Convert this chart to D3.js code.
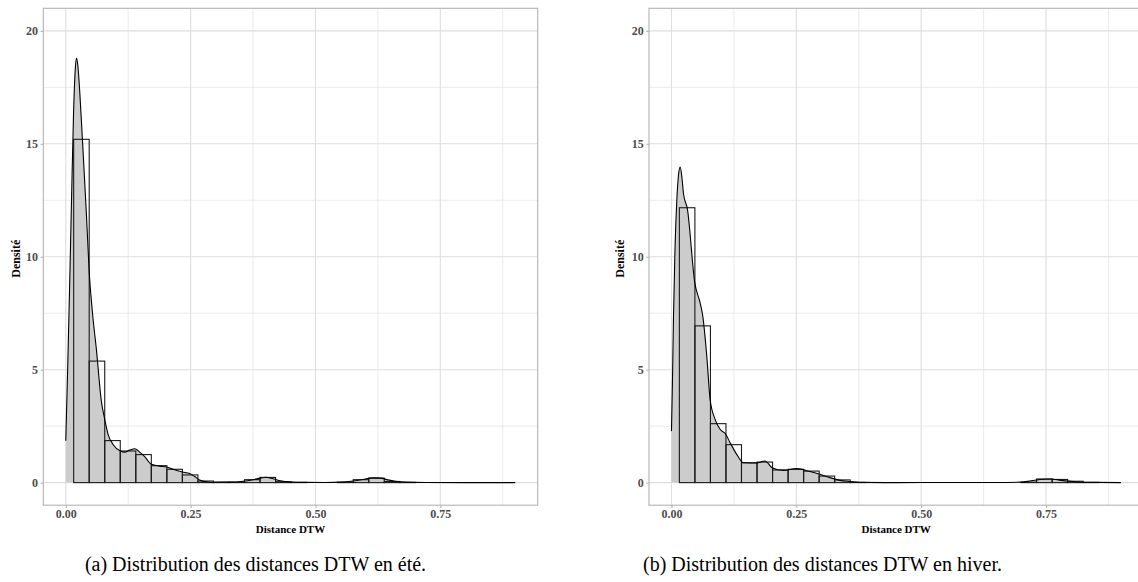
<!DOCTYPE html>
<html>
<head>
<meta charset="utf-8">
<script src="https://cdn.jsdelivr.net/npm/d3@7"></script>
<style>
  html, body { margin: 0; padding: 0; background: #ffffff; }
  svg { display: block; }
</style>
</head>
<body>
<svg id="chart" width="1138" height="582"></svg>
<script>
// ---------------- DATA ----------------
const xTicks = [0, 0.25, 0.5, 0.75];
const xTickLabels = ["0.00", "0.25", "0.50", "0.75"];
const xMinor = [0.125, 0.375, 0.625, 0.875];
const yTicks = [0, 5, 10, 15, 20];
const yTickLabels = ["0", "5", "10", "15", "20"];
const yMinor = [2.5, 7.5, 12.5, 17.5];

const binStart = 0.0158;
const binWidth = 0.0311;

// histogram densities (summer / été)
const summerBins = [15.2, 5.38, 1.86, 1.40, 1.24, 0.75, 0.59, 0.34, 0.07, 0.02,
                    0.02, 0.13, 0.23, 0.04, 0.01, 0.0, 0.0, 0.02, 0.13, 0.20,
                    0.05, 0.01, 0.0, 0.0, 0.0, 0.0, 0.0, 0.0];
// histogram densities (winter / hiver)
const winterBins = [12.17, 6.94, 2.61, 1.68, 0.88, 0.91, 0.56, 0.59, 0.51, 0.29,
                    0.12, 0.01, 0.0, 0.0, 0.0, 0.0, 0.0, 0.0, 0.0, 0.0,
                    0.0, 0.0, 0.02, 0.16, 0.14, 0.06, 0.01, 0.0];

// kernel density curves
const summerDensX = [0.0, 0.004, 0.008, 0.012, 0.0155, 0.019, 0.0215, 0.024, 0.028, 0.0333,
                     0.0413, 0.047, 0.054, 0.0613, 0.0713, 0.078, 0.0847, 0.0947, 0.1093, 0.118,
                     0.128, 0.138, 0.148, 0.158, 0.1713, 0.188, 0.202, 0.2147, 0.2333, 0.248,
                     0.258, 0.268, 0.281, 0.30, 0.33, 0.355, 0.375, 0.39, 0.40, 0.415,
                     0.43, 0.45, 0.48, 0.52, 0.555, 0.575, 0.595, 0.615, 0.63, 0.645,
                     0.66, 0.68, 0.72, 0.80, 0.90];
const summerDensY = [1.85, 5.2, 9.0, 13.0, 16.3, 18.3, 18.8, 18.5, 17.3, 15.2,
                     11.9, 9.3, 7.4, 5.9, 3.6, 2.8, 2.14, 1.69, 1.40, 1.35,
                     1.44, 1.50, 1.35, 1.15, 0.81, 0.73, 0.69, 0.59, 0.47, 0.40,
                     0.27, 0.12, 0.04, 0.015, 0.02, 0.06, 0.13, 0.20, 0.24, 0.17,
                     0.08, 0.03, 0.01, 0.005, 0.02, 0.07, 0.14, 0.21, 0.20, 0.12,
                     0.06, 0.02, 0.005, 0.0, 0.0];

const winterDensX = [0.0, 0.002, 0.004, 0.007, 0.0107, 0.014, 0.0174, 0.021, 0.024, 0.032,
                     0.0467, 0.0574, 0.0627, 0.0707, 0.0774, 0.0874, 0.0974, 0.1087, 0.1174, 0.1307,
                     0.144, 0.1707, 0.1874, 0.2014, 0.224, 0.2507, 0.2774, 0.2974, 0.3174, 0.3374,
                     0.356, 0.38, 0.45, 0.55, 0.65, 0.70, 0.72, 0.745, 0.76, 0.78,
                     0.80, 0.82, 0.85, 0.90];
const winterDensY = [2.28, 4.5, 7.3, 10.3, 12.5, 13.6, 13.97, 13.5, 12.8, 12.1,
                     8.84, 7.96, 7.37, 5.6, 3.68, 2.8, 2.36, 2.14, 1.77, 1.25,
                     0.88, 0.87, 0.96, 0.66, 0.54, 0.62, 0.49, 0.37, 0.22, 0.10,
                     0.05, 0.01, 0.0, 0.005, 0.005, 0.02, 0.08, 0.15, 0.16, 0.10,
                     0.06, 0.03, 0.01, 0.0];

const xTitle = "Distance DTW";
const yTitle = "Densité";
const captions = ["(a) Distribution des distances DTW en été.",
                  "(b) Distribution des distances DTW en hiver."];

// ---------------- LAYOUT ----------------
const svg = d3.select("#chart");
svg.append("rect").attr("width", 1138).attr("height", 582).attr("fill", "#ffffff");

const panelTop = 8.3, panelBottom = 505.2;
const panels = [
  { left: 43.3, right: 537.7, bins: summerBins, dx: summerDensX, dy: summerDensY, caption: captions[0], capX: 255.5, yTitleX: 16 },
  { left: 649.0, right: 1143.4, bins: winterBins, dx: winterDensX, dy: winterDensY, caption: captions[1], capX: 822.5, yTitleX: 620 }
];

const serif = "'Liberation Serif', 'DejaVu Serif', serif";

panels.forEach((p, pi) => {
  const x = d3.scaleLinear().domain([-0.045, 0.945]).range([p.left, p.right]);
  const y = d3.scaleLinear().domain([-1, 21]).range([panelBottom, panelTop]);

  const clipId = "clip" + pi;
  svg.append("clipPath").attr("id", clipId)
    .append("rect").attr("x", p.left).attr("y", panelTop)
    .attr("width", p.right - p.left).attr("height", panelBottom - panelTop);

  const g = svg.append("g");
  const inner = g.append("g").attr("clip-path", `url(#${clipId})`);

  // minor grid
  inner.selectAll(".ymin").data(yMinor).enter().append("line")
    .attr("x1", p.left).attr("x2", p.right)
    .attr("y1", d => y(d)).attr("y2", d => y(d))
    .attr("stroke", "#e6e6e6").attr("stroke-width", 0.8);
  inner.selectAll(".xmin").data(xMinor).enter().append("line")
    .attr("y1", panelTop).attr("y2", panelBottom)
    .attr("x1", d => x(d)).attr("x2", d => x(d))
    .attr("stroke", "#e6e6e6").attr("stroke-width", 0.8);
  // major grid
  inner.selectAll(".ymaj").data(yTicks).enter().append("line")
    .attr("x1", p.left).attr("x2", p.right)
    .attr("y1", d => y(d)).attr("y2", d => y(d))
    .attr("stroke", "#dedede").attr("stroke-width", 1.1);
  inner.selectAll(".xmaj").data(xTicks).enter().append("line")
    .attr("y1", panelTop).attr("y2", panelBottom)
    .attr("x1", d => x(d)).attr("x2", d => x(d))
    .attr("stroke", "#dedede").attr("stroke-width", 1.1);

  // density area
  const pts = p.dx.map((v, i) => [v, p.dy[i]]);
  const area = d3.area().x(d => x(d[0])).y0(y(0)).y1(d => y(d[1])).curve(d3.curveMonotoneX);
  inner.append("path").datum(pts).attr("d", area).attr("fill", "#cccccc").attr("stroke", "none");

  // histogram bars (outline only)
  const bars = p.bins.map((h, i) => ({ x0: binStart + i * binWidth, x1: binStart + (i + 1) * binWidth, h }));
  inner.selectAll(".bar").data(bars).enter().append("rect")
    .attr("x", d => x(d.x0)).attr("width", d => x(d.x1) - x(d.x0))
    .attr("y", d => y(d.h)).attr("height", d => y(0) - y(d.h))
    .attr("fill", "none").attr("stroke", "#1a1a1a").attr("stroke-width", 1.1);

  // density line
  const line = d3.line().x(d => x(d[0])).y(d => y(d[1])).curve(d3.curveMonotoneX);
  inner.append("path").datum(pts).attr("d", line)
    .attr("fill", "none").attr("stroke", "#000000").attr("stroke-width", 1.1);

  // panel border
  g.append("rect").attr("x", p.left).attr("y", panelTop)
    .attr("width", p.right - p.left).attr("height", panelBottom - panelTop)
    .attr("fill", "none").attr("stroke", "#b3b3b3").attr("stroke-width", 1.1);

  // axes
  const yAxis = d3.axisLeft(y).tickValues(yTicks).tickFormat((d, i) => yTickLabels[i])
    .tickSizeInner(2.7).tickSizeOuter(0).tickPadding(2.5);
  const ya = g.append("g").attr("transform", `translate(${p.left},0)`).call(yAxis);
  const xAxis = d3.axisBottom(x).tickValues(xTicks).tickFormat((d, i) => xTickLabels[i])
    .tickSizeInner(2.7).tickSizeOuter(0).tickPadding(1.5);
  const xa = g.append("g").attr("transform", `translate(0,${panelBottom})`).call(xAxis);
  [ya, xa].forEach(a => {
    a.select(".domain").remove();
    a.selectAll(".tick line").attr("stroke", "#b3b3b3").attr("stroke-width", 1.1);
    a.selectAll(".tick text").attr("fill", "#4d4d4d")
      .style("font-family", serif).style("font-size", "12px").style("font-weight", "bold");
  });

  // axis titles
  g.append("text").attr("x", (p.left + p.right) / 2).attr("y", 533)
    .attr("text-anchor", "middle").style("font-family", serif)
    .style("font-size", "11px").style("font-weight", "bold").attr("fill", "#000")
    .text(xTitle);
  g.append("text").attr("transform", `translate(${p.yTitleX + 4},${(panelTop + panelBottom) / 2 + 2}) rotate(-90)`)
    .attr("text-anchor", "middle").style("font-family", serif)
    .style("font-size", "12px").style("font-weight", "bold").attr("fill", "#000")
    .text(yTitle);

  // caption
  svg.append("text").attr("x", p.capX).attr("y", 571)
    .attr("text-anchor", "middle").style("font-family", serif)
    .style("font-size", "20px").attr("fill", "#000")
    .text(p.caption);
});
</script>
</body>
</html>
